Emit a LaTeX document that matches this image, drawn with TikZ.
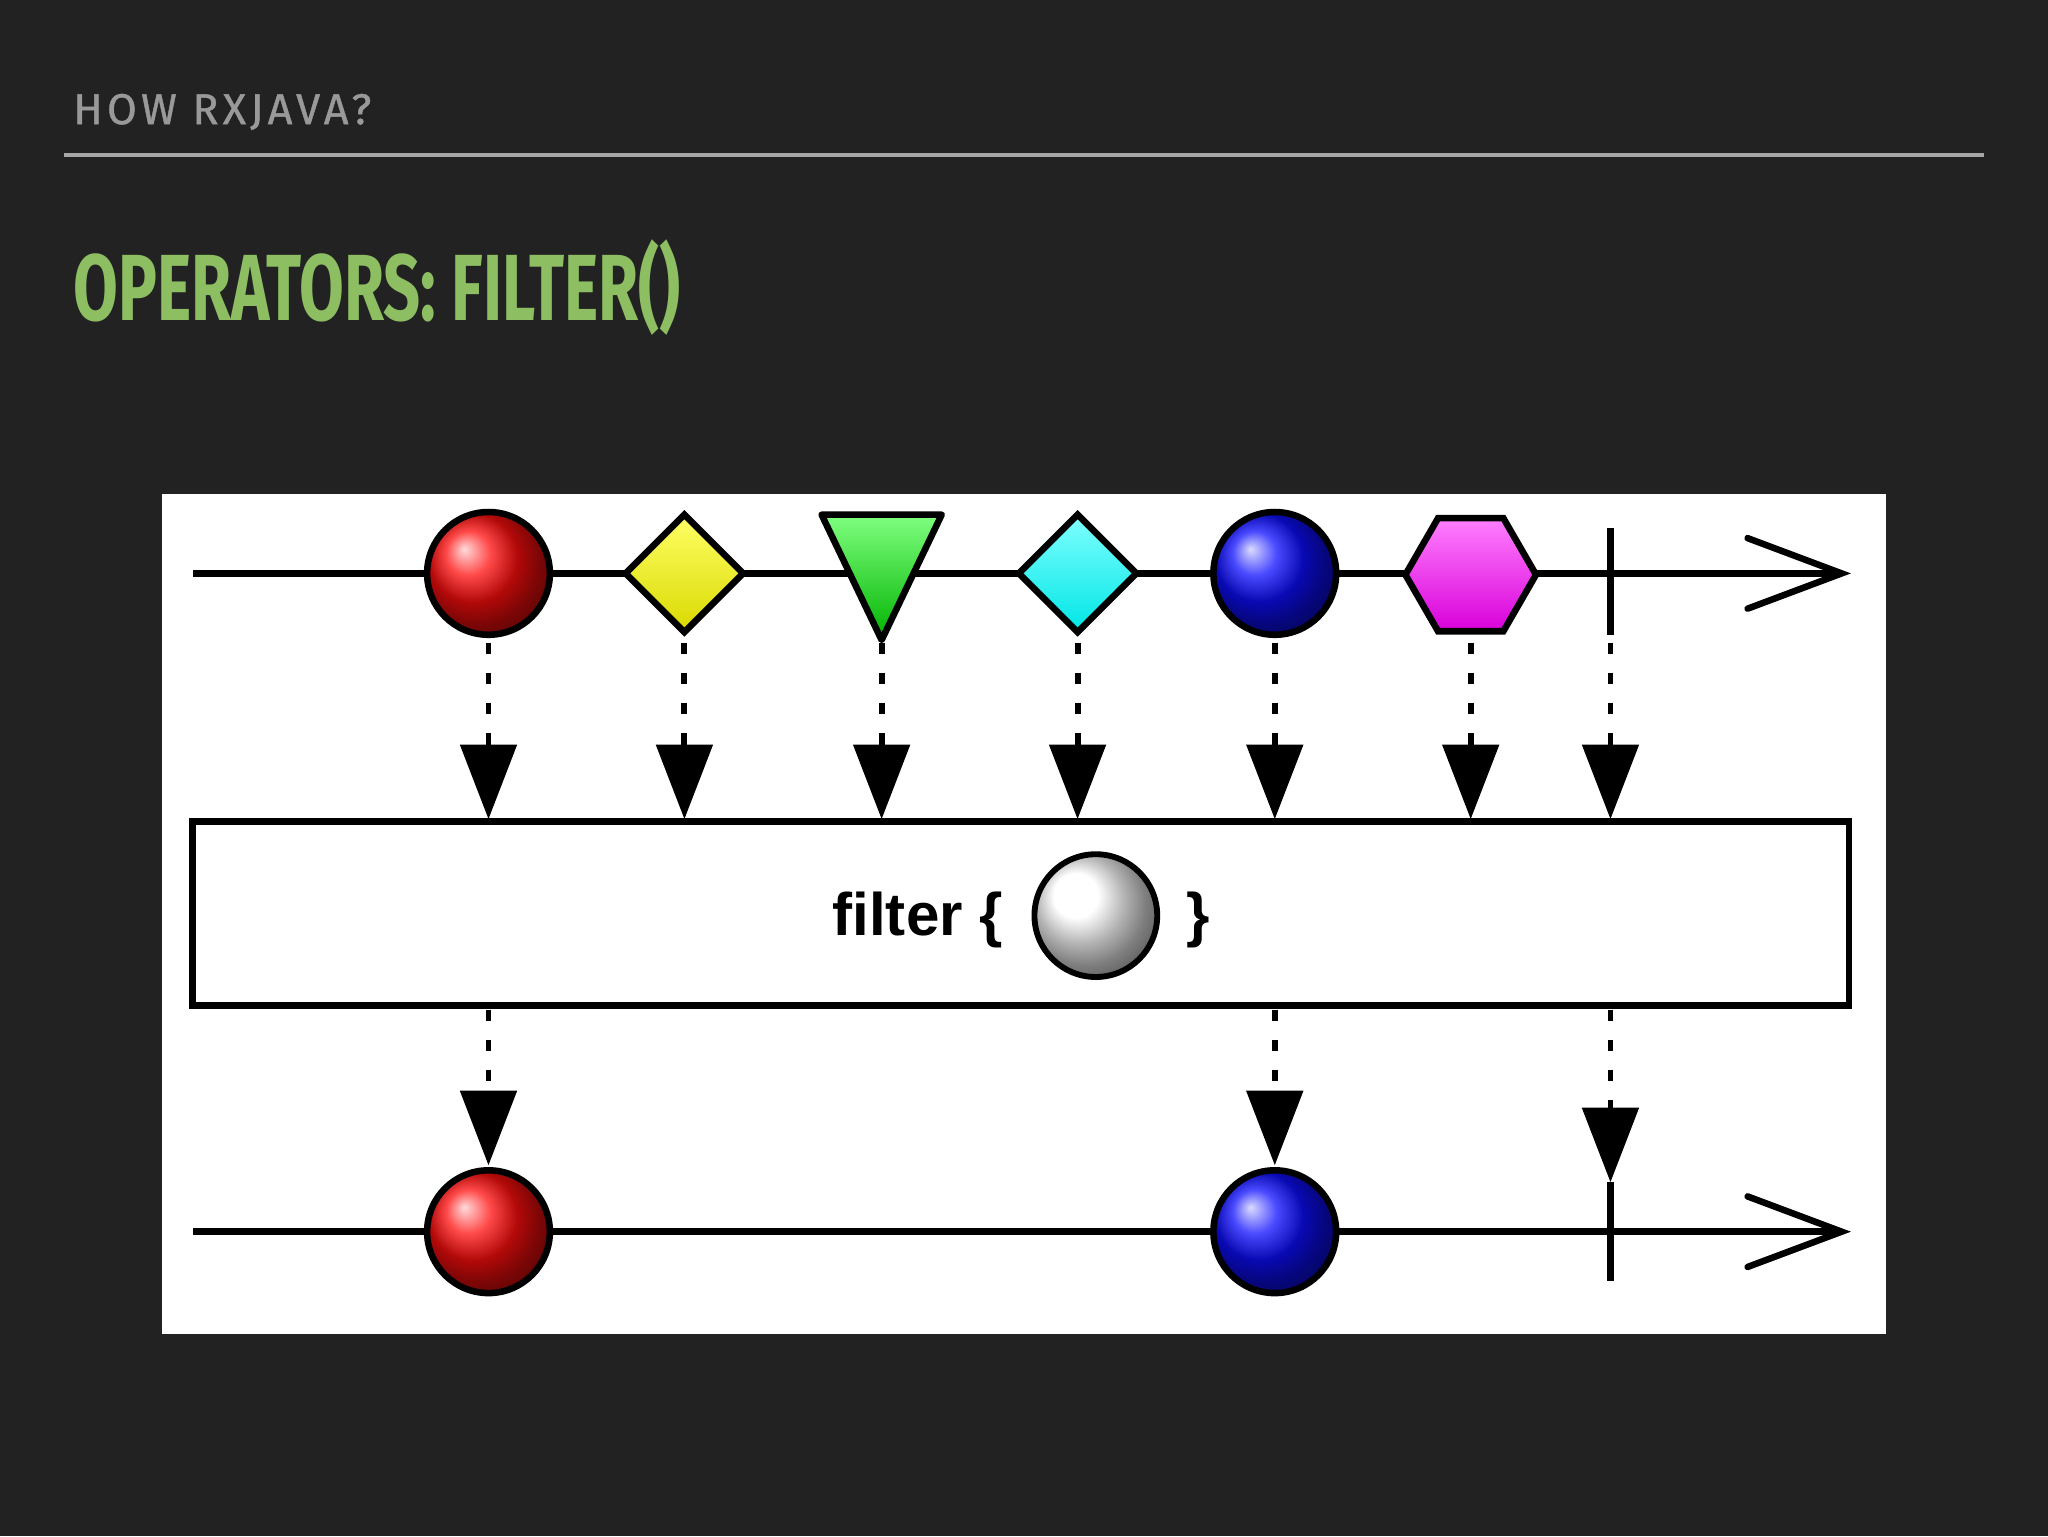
\documentclass[tikz,border=0pt]{standalone}
\usepackage{fontspec}
\setmainfont{Liberation Sans}
\newfontfamily\hdfont{Fira Sans}
\newfontfamily\hdfontsp[LetterSpace=10,FakeBold=1]{Fira Sans}
\usetikzlibrary{shapes.geometric}
\definecolor{bg}{HTML}{222223}
\definecolor{ttl}{HTML}{8DBE62}
\tikzset{
 ln/.style={line width=5pt,black},
 ball/.style={circle,draw=black,line width=5pt,minimum size=94pt,inner sep=0pt},
 dsh/.style={line width=4.5pt,dash pattern=on 9pt off 14pt},
 tip/.style={fill=black},
}
\begin{document}
\begin{tikzpicture}[x=1pt,y=-1pt]
\fill[bg] (0,0) rectangle (1568,1176);
\useasboundingbox (0,0) rectangle (1568,1176);
\node[anchor=base west,text=gray!80,inner sep=0] (hdr) at (56,95) {\hdfontsp\fontsize{33}{33}\selectfont HOW RXJAVA?};
\draw[gray!70,line width=3pt] (49,119) -- (1519,119);
\node[anchor=base west,text=ttl,inner sep=0] (ttl) at (56,245) {\scalebox{0.69}[1]{\hdfont\bfseries\fontsize{72}{72}\selectfont OPERATORS: FILTER()}};
\fill[white] (124,378) rectangle (1444,1021);
% top timeline
\draw[ln] (148,439) -- (1410,439);
\draw[ln,line cap=round] (1338,412) -- (1410,439) -- (1338,466);
\node[ball,ball color=red!95!white] (r1) at (374,439) {};
\node[diamond,draw=black,line width=5pt,minimum size=92pt,inner sep=0,top color=yellow!60!white,bottom color=yellow!85!black] (y1) at (524,439) {};
\draw[line width=5pt,line join=round,top color=green!50!white,bottom color=green!70!black] (629,394) -- (721,394) -- (675,490) -- cycle;
\coordinate (g1) at (675,490);
\node[diamond,draw=black,line width=5pt,minimum size=92pt,inner sep=0,top color=cyan!50!white,bottom color=cyan!90!black] (c1) at (825,439) {};
\node[ball,ball color=blue!95!white] (b1) at (976,439) {};
\node[regular polygon,regular polygon sides=6,draw=black,line width=5pt,minimum size=100pt,inner sep=0,top color=magenta!50!white,bottom color=magenta!85!black] (m1) at (1126,440) {};
\draw[ln] (1233,404) -- (1233,486);
% box
\node[draw=black,line width=5pt,fill=white,minimum width=1268pt,minimum height=141pt,inner sep=0] (box) at (781.5,699.5) {};
\node[anchor=base east,inner sep=0] (ft) at (768,716) {\bfseries\fontsize{46}{46}\selectfont filter \{};
\node[ball,draw=black,line width=4.5pt,ball color=white,minimum size=94pt] (wb) at (839,701) {};
\node[anchor=base west,inner sep=0] (cb) at (908,716) {\bfseries\fontsize{46}{46}\selectfont \}};
% upper arrows
\foreach \x in {374,524,675,825,976,1126,1233}{
  \draw[dsh] (\x,492) -- (\x,572);
  \fill[tip] (\x-22,570) -- (\x+22,570) -- (\x,627) -- cycle;
}
% lower arrows
\foreach \x/\y in {374/835,976/835,1233/848}{
  \draw[dsh] (\x,773) -- (\x,\y);
  \fill[tip] (\x-22,\y) -- (\x+22,\y) -- (\x,\y+57) -- cycle;
}
% bottom timeline
\draw[ln] (148,943) -- (1410,943);
\draw[ln,line cap=round] (1338,916) -- (1410,943) -- (1338,970);
\node[ball,ball color=red!95!white] (r2) at (374,943) {};
\node[ball,ball color=blue!95!white] (b2) at (976,943) {};
\draw[ln] (1233,905) -- (1233,981);
\end{tikzpicture}
\end{document}
